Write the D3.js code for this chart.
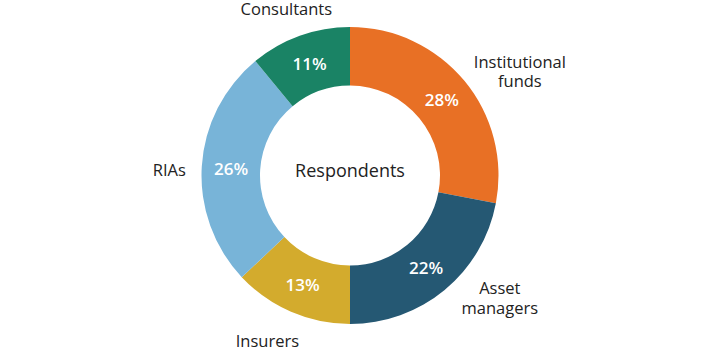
<!DOCTYPE html>
<html><head><meta charset="utf-8">
<script src="https://cdn.jsdelivr.net/npm/d3@7"></script>
<style>body{margin:0;background:#fff}svg{display:block}</style>
</head><body>
<svg id="c" width="720" height="351"></svg>
<script>
const categories = ["Institutional funds", "Asset managers", "Insurers", "RIAs", "Consultants"];
const values = [28, 22, 13, 26, 11];
const colors = ["#E87025", "#255873", "#D3AB2D", "#78B4D8", "#1A8365"];
const centerLabel = "Respondents";

const W = 720, H = 351, cx = 350, cy = 175.5, rOuter = 148.5, rInner = 90, rLabel = 188;
// label layout nudges (presentation only)
const nudge = {
  "Institutional funds": [25, 12],
  "Asset managers": [30, -26],
  "Insurers": [-8, -1],
  "RIAs": [7, 12],
  "Consultants": [0, 16.5]
};
const font = "'Open Sans', sans-serif";
const svg = d3.select("#c");
const g = svg.append("g").attr("transform", `translate(${cx},${cy})`);
const data = categories.map((c, i) => ({cat: c, value: values[i], color: colors[i]}));
const pie = d3.pie().value(d => d.value).sort(null);
const arc = d3.arc().innerRadius(rInner).outerRadius(rOuter);
const labelArc = d3.arc().innerRadius(rLabel).outerRadius(rLabel);
const arcs = pie(data);

g.selectAll("path").data(arcs).join("path")
  .attr("d", arc).attr("fill", d => d.data.color);

g.selectAll("text.pct").data(arcs).join("text")
  .attr("class", "pct")
  .attr("x", d => arc.centroid(d)[0]).attr("y", d => arc.centroid(d)[1])
  .attr("text-anchor", "middle").attr("dominant-baseline", "central")
  .attr("fill", "#fff").attr("font-family", font).attr("font-weight", 600)
  .attr("font-size", 17)
  .text(d => d.data.value + "%");

const lblG = g.append("g");
arcs.forEach(d => {
  const p = labelArc.centroid(d);
  const n = nudge[d.data.cat] || [0, 0];
  const words = d.data.cat.split(" ");
  const lines = words.length > 1 ? [words[0], words.slice(1).join(" ")] : words;
  lines.forEach((ln, i) => {
    lblG.append("text")
      .attr("x", p[0] + n[0]).attr("y", p[1] + n[1] + i * 19.5)
      .attr("text-anchor", "middle")
      .attr("fill", "#222").attr("font-family", font).attr("font-size", 16.5)
      .text(ln);
  });
});

g.append("text").attr("x", 0).attr("y", -6)
  .attr("text-anchor", "middle").attr("dominant-baseline", "central")
  .attr("fill", "#222").attr("font-family", font).attr("font-size", 18)
  .text(centerLabel);
</script>
</body></html>
